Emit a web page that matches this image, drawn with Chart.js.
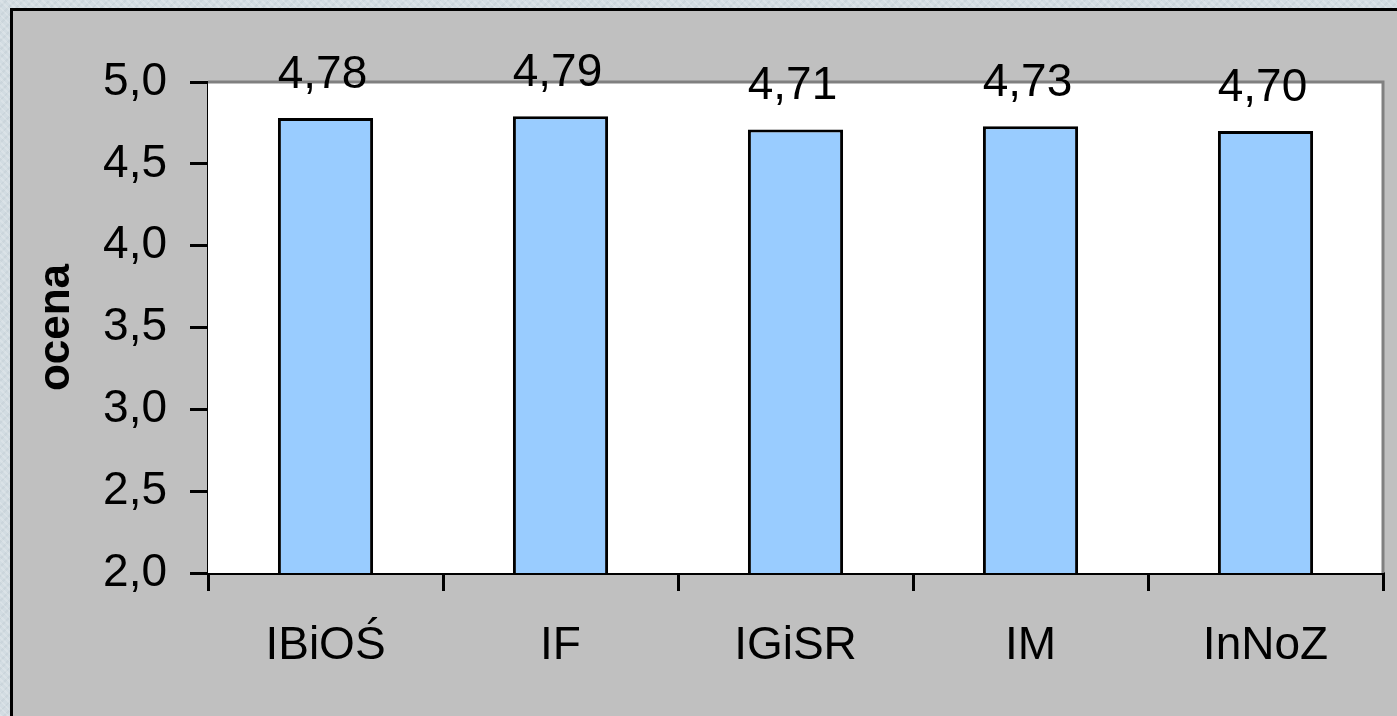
<!DOCTYPE html>
<html>
<head>
<meta charset="utf-8">
<script src="https://cdn.jsdelivr.net/npm/chart.js@4"></script>
<style>
  body { margin: 0; width: 1397px; height: 716px; overflow: hidden;
         background-color: #d2dce2;
         background-image: repeating-linear-gradient(45deg, rgba(255,255,255,0.18) 0 2px, rgba(0,0,0,0) 2px 5px),
                           repeating-linear-gradient(-45deg, rgba(160,175,185,0.15) 0 2px, rgba(0,0,0,0) 2px 6px); }
  #panel { position: absolute; left: 10px; top: 8px; width: 1400px; height: 720px;
           border-left: 3px solid #000; border-top: 3px solid #000; background: #c0c0c0; }
  #myChart { position: absolute; left: 0; top: 0; }
</style>
</head>
<body>
<div id="panel"></div>
<canvas id="myChart" width="1397" height="716"></canvas>
<script>
const instytuty = ['IBiOŚ', 'IF', 'IGiSR', 'IM', 'InNoZ'];
const oceny = [4.78, 4.79, 4.71, 4.73, 4.70];
const tickMin = 2.0;
const tickMax = 5.0;
const tickStep = 0.5;

const ctx = document.getElementById('myChart');
const czcionka = '"Liberation Sans", Arial, sans-serif';

function przecinek(v, d) {
    return v.toFixed(d).replace('.', ',');
}

// white plot area with grey top/right edge
const tloWykresu = {
    id: 'tloWykresu',
    beforeDatasetsDraw(chart) {
        const a = chart.chartArea;
        const c = chart.ctx;
        c.save();
        c.fillStyle = '#ffffff';
        c.fillRect(a.left, a.top, a.right - a.left, a.bottom - a.top);
        c.strokeStyle = '#808080';
        c.lineWidth = 3;
        c.beginPath();
        c.moveTo(a.left, a.top);
        c.lineTo(a.right, a.top);
        c.lineTo(a.right, a.bottom);
        c.stroke();
        c.restore();
    }
};

// value labels above the bars
const etykiety = {
    id: 'etykiety',
    afterDatasetsDraw(chart) {
        const c = chart.ctx;
        const meta = chart.getDatasetMeta(0);
        c.save();
        c.fillStyle = '#000';
        c.font = '46px ' + czcionka;
        c.textAlign = 'center';
        c.textBaseline = 'alphabetic';
        for (let i = 0; i < meta.data.length; i++) {
            let bar = meta.data[i];
            c.fillText(przecinek(oceny[i], 2), bar.x - 3, bar.y - 30);
        }
        c.restore();
    }
};

new Chart(ctx, {
    type: 'bar',
    data: {
        labels: instytuty,
        datasets: [{
            data: oceny,
            backgroundColor: '#99ccff',
            borderColor: '#000000',
            borderWidth: 3,
            borderSkipped: false,
            categoryPercentage: 1,
            barPercentage: 0.405
        }]
    },
    options: {
        responsive: false,
        animation: false,
        layout: { padding: { top: 82, right: 14, left: 0, bottom: 0 } },
        plugins: {
            legend: { display: false },
            tooltip: { enabled: false }
        },
        scales: {
            x: {
                grid: { display: true, offset: true, drawOnChartArea: false, drawTicks: true,
                        tickLength: 18, color: '#000', lineWidth: 3 },
                border: { display: true, color: '#000', width: 3 },
                ticks: { color: '#000', padding: 28, font: { family: czcionka, size: 46 } },
                afterFit(scale) { scale.height = 143; }
            },
            y: {
                min: tickMin,
                max: tickMax,
                grid: { display: true, drawOnChartArea: false, drawTicks: true,
                        tickLength: 18, color: '#000', lineWidth: 3 },
                border: { display: true, color: '#000', width: 3 },
                ticks: { stepSize: tickStep, color: '#000', padding: 23,
                         font: { family: czcionka, size: 46 },
                         callback: (v) => przecinek(v, 1) },
                title: { display: true, text: 'ocena', color: '#000', padding: 30,
                         font: { family: czcionka, size: 44, weight: 'bold' } },
                afterFit(scale) { scale.width = 208; }
            }
        }
    },
    plugins: [tloWykresu, etykiety]
});
</script>
</body>
</html>
